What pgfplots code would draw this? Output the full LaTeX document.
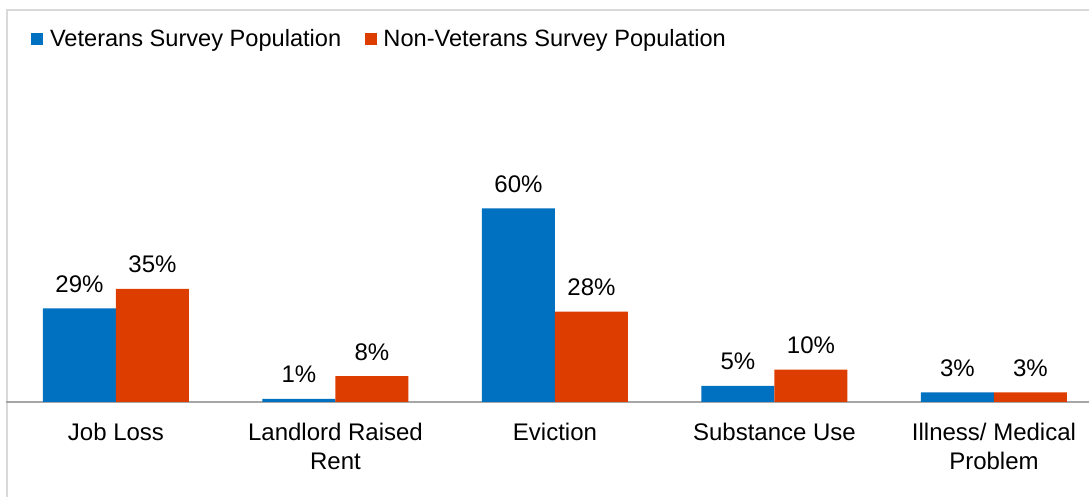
\documentclass[border=0pt]{standalone}
\usepackage{pgfplots}
\pgfplotsset{compat=1.18}
\usepackage{fontspec}
\setmainfont{Liberation Sans}
\definecolor{vetblue}{HTML}{0070C0}
\definecolor{nonvet}{HTML}{DE3D00}
\definecolor{framegray}{HTML}{D9D9D9}
\definecolor{axgray}{HTML}{A6A6A6}
\begin{document}
\begin{tikzpicture}
\useasboundingbox (0pt,0pt) rectangle (544.5pt,248.5pt);
\draw[framegray, line width=1pt] (3.25pt,243.5pt) rectangle (600pt,-50pt);
\begin{axis}[
  at={(3pt,47.5pt)}, anchor=south west,
  scale only axis, width=541.5pt, height=196pt,
  xmin=-0.501, xmax=4.433, ymin=0, ymax=121.4,
  ybar=0pt, bar width=36.5pt,
  axis x line*=bottom, axis y line=none,
  x axis line style={axgray, line width=1pt, -},
  xtick={0,1,2,3,4}, major tick length=0pt,
  xticklabels={Job Loss, {Landlord Raised\\Rent}, Eviction, Substance Use, {Illness/ Medical\\Problem}},
  xticklabel style={align=center, anchor=north, inner sep=0pt, yshift=-10.5pt, font=\fontsize{12}{14.5}\selectfont},
  ytick=\empty,
  /pgf/number format/assume math mode=true,
  nodes near coords={\pgfmathprintnumber{\pgfplotspointmeta}\%},
  every node near coord/.append style={anchor=base, yshift=8pt, inner sep=0pt, font=\fontsize{12}{14.5}\selectfont, text=black},
  legend style={at={(0.0231,0.926)}, anchor=west, draw=none, fill=none, inner sep=0pt,
    legend columns=2, font=\fontsize{11.8}{14.5}\selectfont,
    nodes={inner xsep=3.3pt, inner ysep=0pt},
    /tikz/every even column/.append style={column sep=8.5pt}},
  clip=false,
]
\addplot[fill=vetblue, draw=none, legend image code/.code={\fill[vetblue] (0pt,-3pt) rectangle (6pt,3pt);}] coordinates {(0,29) (1,1) (2,60) (3,5) (4,3)};
\addplot[fill=nonvet, draw=none, legend image code/.code={\fill[nonvet] (0pt,-3pt) rectangle (6pt,3pt);}] coordinates {(0,35) (1,8) (2,28) (3,10) (4,3)};
\legend{Veterans Survey Population, Non-Veterans Survey Population}
\end{axis}
\end{tikzpicture}
\end{document}
